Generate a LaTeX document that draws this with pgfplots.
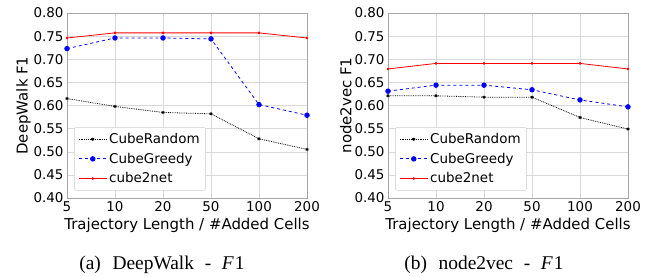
\documentclass[border=0pt]{standalone}
\usepackage{fontspec}
\setmainfont{DejaVu Sans}
\newfontfamily\capfont{Liberation Serif}
\usepackage{pgfplots}
\pgfplotsset{compat=1.18}
\pgfplotsset{
  myaxis/.style={
    scale only axis, width=240bp, height=185bp,
    xmin=0, xmax=5, ymin=0.40, ymax=0.80,
    xtick={0,1,2,3,4,5}, xticklabels={5,10,20,50,100,200},
    ytick={0.40,0.45,0.50,0.55,0.60,0.65,0.70,0.75,0.80},
    yticklabel style={/pgf/number format/.cd, fixed, fixed zerofill, precision=2},
    /pgf/number format/assume math mode=true,
    tick label style={font=\fontsize{13.5}{15}\selectfont},
    label style={font=\fontsize{15}{17}\selectfont},
    grid=major, grid style={gray!30, line width=0.5pt},
    axis line style={gray!70, line width=0.6pt},
    tick style={draw=none},
    xlabel={Trajectory Length / \#Added Cells},
    xlabel style={yshift=0bp},
    ylabel style={yshift=-4bp},
    legend style={at={(0.03,0.04)}, anchor=south west, font=\fontsize{13.5}{18}\selectfont,
      draw=gray!40, rounded corners=2pt, row sep=4pt, inner sep=4pt},
    legend image code/.code={
      \draw[mark repeat=2,mark phase=2,#1] plot coordinates {(0bp,0bp) (14bp,0bp) (28bp,0bp)};},
    legend cell align=left,
    every axis plot/.append style={line width=0.8pt},
  },
  rnd/.style={black, densely dotted, mark=asterisk, mark size=1.6pt, mark options={solid}},
  grd/.style={blue, dashed, mark=*, mark size=2.3pt, mark options={solid}},
  c2n/.style={red, solid, mark=*, mark size=0.9pt},
}
\begin{document}
\begin{tikzpicture}
\path[use as bounding box] (0,0) rectangle (663bp,277bp);
\begin{axis}[myaxis, at={(67bp,79bp)}, anchor=south west, ylabel={DeepWalk F1}]
\addplot[rnd] coordinates {(0,0.615) (1,0.598) (2,0.585) (3,0.582) (4,0.528) (5,0.505)};
\addlegendentry{CubeRandom}
\addplot[grd] coordinates {(0,0.723) (1,0.746) (2,0.746) (3,0.744) (4,0.602) (5,0.579)};
\addlegendentry{CubeGreedy}
\addplot[c2n] coordinates {(0,0.746) (1,0.757) (2,0.757) (3,0.757) (4,0.757) (5,0.746)};
\addlegendentry{cube2net}
\end{axis}
\begin{axis}[myaxis, at={(388bp,79bp)}, anchor=south west, ylabel={node2vec F1}]
\addplot[rnd] coordinates {(0,0.621) (1,0.621) (2,0.618) (3,0.618) (4,0.574) (5,0.549)};
\addlegendentry{CubeRandom}
\addplot[grd] coordinates {(0,0.631) (1,0.644) (2,0.644) (3,0.634) (4,0.612) (5,0.597)};
\addlegendentry{CubeGreedy}
\addplot[c2n] coordinates {(0,0.679) (1,0.691) (2,0.691) (3,0.691) (4,0.691) (5,0.679)};
\addlegendentry{cube2net}
\end{axis}
\node[font=\capfont\fontsize{19.5}{21}\selectfont] at (162bp,12bp) {(a)\hspace{0.35em} DeepWalk\hspace{0.3em} -\hspace{0.3em} \textit{F}\hspace{0.05em}1};
\node[font=\capfont\fontsize{19.5}{21}\selectfont] at (484bp,12bp) {(b)\hspace{0.35em} node2vec\hspace{0.3em} -\hspace{0.3em} \textit{F}\hspace{0.05em}1};
\end{tikzpicture}
\end{document}
